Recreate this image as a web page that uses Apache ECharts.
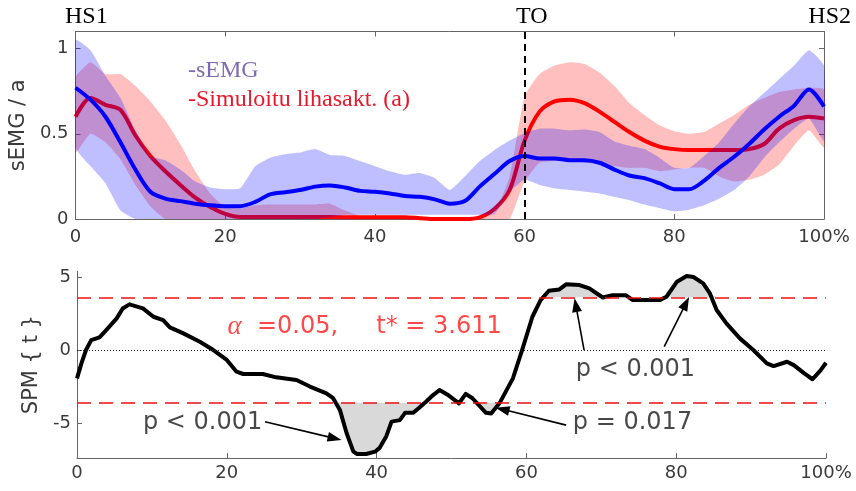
<!DOCTYPE html>
<html><head><meta charset="utf-8">
<script src="https://cdn.jsdelivr.net/npm/echarts@6/dist/echarts.min.js"></script>
<style>html,body{margin:0;padding:0;background:#fff}#c{width:856px;height:491px}</style>
</head><body><div id="c"></div>
<script>
// ---- data ----
const pct = [0,2,4,6,8,10,12,14,16,18,20,22,24,26,28,30,32,34,36,38,40,42,44,46,48,50,52,54,56,58,60,62,64,66,68,70,72,74,76,78,80,82,84,86,88,90,92,94,96,98,100];
const semgMean  = [0.77,0.70,0.60,0.45,0.29,0.16,0.12,0.105,0.09,0.08,0.075,0.075,0.10,0.145,0.157,0.17,0.19,0.197,0.185,0.165,0.16,0.15,0.135,0.13,0.115,0.09,0.105,0.19,0.265,0.34,0.37,0.355,0.355,0.345,0.345,0.33,0.29,0.255,0.24,0.21,0.175,0.175,0.225,0.30,0.365,0.44,0.525,0.60,0.665,0.76,0.66];
const semgUpper = [1.05,0.99,0.84,0.71,0.52,0.37,0.345,0.29,0.22,0.185,0.175,0.18,0.31,0.36,0.38,0.39,0.41,0.375,0.37,0.34,0.31,0.28,0.26,0.27,0.24,0.17,0.25,0.34,0.405,0.46,0.505,0.53,0.53,0.52,0.525,0.51,0.455,0.43,0.41,0.36,0.30,0.30,0.37,0.45,0.56,0.66,0.74,0.82,0.90,0.99,0.90];
const semgLower = [0.42,0.31,0.21,0.05,0,0,0,0,0,0,0,0,0,0,0,0,0,0.01,0.025,0.025,0.025,0.025,0.025,0.025,0.025,0.025,0.025,0.025,0.03,0.16,0.23,0.20,0.18,0.17,0.16,0.15,0.13,0.11,0.085,0.065,0.045,0.055,0.08,0.12,0.17,0.25,0.36,0.45,0.53,0.59,0.46];
const simMean   = [0.60,0.71,0.67,0.64,0.49,0.37,0.28,0.20,0.125,0.07,0.03,0.012,0.012,0.012,0.012,0.012,0.012,0.012,0.01,0.01,0.01,0.01,0.01,0.005,0,0,0,0.01,0.06,0.17,0.46,0.63,0.69,0.70,0.68,0.63,0.57,0.51,0.46,0.425,0.41,0.405,0.405,0.405,0.405,0.41,0.44,0.53,0.58,0.60,0.59];
const simUpper  = [0.83,0.92,0.85,0.85,0.78,0.69,0.58,0.44,0.28,0.15,0.07,0.06,0.08,0.085,0.085,0.085,0.085,0.09,0.05,0.02,0.01,0.01,0.01,0.01,0.01,0.01,0.01,0.01,0.04,0.25,0.72,0.85,0.90,0.92,0.91,0.86,0.78,0.68,0.61,0.55,0.515,0.50,0.51,0.56,0.61,0.67,0.71,0.745,0.76,0.77,0.76];
const simLower  = [0.39,0.50,0.45,0.35,0.20,0.075,0,0,0,0,0,0,0,0,0,0,0,0,0,0,0,0,0,0,0,0,0,0,0,0,0.22,0.33,0.34,0.34,0.33,0.32,0.31,0.30,0.30,0.28,0.29,0.30,0.30,0.25,0.22,0.23,0.26,0.32,0.43,0.52,0.42];

const spmX = [0,0.6,1.2,1.9,3.0,3.9,5.3,6.1,7.0,8.8,10.2,11.5,12.4,14.2,16.4,18.2,20.0,21.3,22.2,24.8,26.6,29.3,31.1,33.3,34.2,35.1,36.0,36.9,37.4,38.6,39.8,40.4,41.3,42.0,43.1,43.8,44.9,45.8,46.6,47.5,48.4,49.6,51.0,51.9,52.8,54.6,55.3,56.4,58.2,59.5,60.8,61.9,63.0,64.4,65.3,67.1,68.4,70.2,71.5,73.3,74.2,77.8,78.7,80.1,81.4,82.3,83.6,84.5,85.4,86.7,88.5,90.3,92.1,93.0,94.8,95.7,97.1,98.2,99.3,100];
const spmT = [-1.94,-0.9,0,0.68,0.87,1.37,2.17,2.85,3.13,2.85,2.28,2.05,1.55,1.14,0.57,0,-0.68,-1.48,-1.64,-1.64,-1.87,-2.05,-2.5,-2.97,-3.3,-4.1,-5.7,-6.96,-7.12,-7.12,-6.96,-6.7,-5.9,-4.9,-4.8,-4.3,-4.3,-3.9,-3.54,-3.1,-2.74,-3.1,-3.65,-3.0,-3.3,-4.3,-4.34,-3.65,-1.94,0.11,2.28,3.42,4.06,4.15,4.5,4.45,4.22,3.6,3.75,3.75,3.42,3.42,3.65,4.68,5.07,5.0,4.57,3.88,2.74,1.83,0.8,0,-0.91,-1.1,-0.8,-1.03,-1.6,-2.0,-1.37,-0.87];
const tCrit = 3.611;
const toPct = 60;
const topYTicks = [0,0.5,1];
const spmYTicks = [-5,0,5];
const eventLabels = [['HS1',65,'left'],['TO',516,'left'],['HS2',851,'right']];
const arrows = [[[25.1,-4.91],[34.4,-6.05]],[[65.3,-5.14],[56.8,-4.06]],[[67.7,0.0],[66.6,3.08]],[[78.4,0.23],[81.3,3.2]]];
const pTexts = [['p < 0.001',8.8,-5.0],['p = 0.017',66.2,-5.0],['p < 0.001',66.6,-1.37]];

// ---- chart ----
const SANS = 'DejaVu Sans, Liberation Sans, sans-serif';
const SERIF = 'Liberation Serif, Times New Roman, serif';
const AX = '#666', LB = '#3a3a3a';
const pairs = (xs, ys) => xs.map((x, i) => [x, ys[i]]);
const xFmt = v => (v === 100 ? '100%' : String(v));

function bandSeries(upper, lower, color, z) {
  return {
    type: 'custom', xAxisIndex: 0, yAxisIndex: 0, z: z, silent: true, clip: true,
    data: [[pct[0], lower[0]]],
    renderItem: (params, api) => {
      const top = pct.map((x, i) => api.coord([x, upper[i]]));
      const bot = pct.map((x, i) => api.coord([x, lower[i]])).reverse();
      return { type: 'polygon', shape: { points: top.concat(bot), smooth: 0.15 }, style: { fill: color, stroke: null } };
    }
  };
}

function xAxisCfg(gi, pos, showLabel) {
  return {
    type: 'value', gridIndex: gi, position: pos, min: 0, max: 100, interval: 20,
    axisLine: { show: true, onZero: false, lineStyle: { color: AX, width: 1 } },
    axisTick: { show: true, inside: true, length: 5, lineStyle: { color: AX } },
    axisLabel: { show: showLabel, formatter: xFmt, color: LB, fontFamily: SANS, fontSize: 18, margin: gi === 0 ? 9 : 6 },
    splitLine: { show: false }
  };
}

const option = {
  animation: false,
  backgroundColor: '#fff',
  grid: [
    { left: 75, top: 31.5, width: 749, height: 187.5 },
    { left: 77, top: 271.2, width: 749, height: 186.9 }
  ],
  xAxis: [xAxisCfg(0, 'bottom', true), xAxisCfg(0, 'top', false), xAxisCfg(1, 'bottom', true)],
  yAxis: [
    { type: 'value', gridIndex: 0, position: 'left', min: 0, max: 1.1,
      axisLine: { show: true, onZero: false, lineStyle: { color: AX } },
      axisTick: { show: true, inside: true, length: 5, customValues: topYTicks, lineStyle: { color: AX } },
      axisLabel: { customValues: topYTicks, color: LB, fontFamily: SANS, fontSize: 18, margin: 7 },
      splitLine: { show: false },
      name: 'sEMG / a', nameLocation: 'middle', nameGap: 40,
      nameTextStyle: { color: LB, fontFamily: SANS, fontSize: 21 } },
    { type: 'value', gridIndex: 0, position: 'right', min: 0, max: 1.1,
      axisLine: { show: true, onZero: false, lineStyle: { color: AX } },
      axisTick: { show: true, inside: true, length: 5, customValues: topYTicks, lineStyle: { color: AX } },
      axisLabel: { show: false }, splitLine: { show: false } },
    { type: 'value', gridIndex: 1, position: 'left', min: -7.4, max: 5.4,
      axisLine: { show: true, onZero: false, lineStyle: { color: AX } },
      axisTick: { show: true, inside: true, length: 5, customValues: spmYTicks, lineStyle: { color: AX } },
      axisLabel: { customValues: spmYTicks, color: LB, fontFamily: SANS, fontSize: 18, margin: 6 },
      splitLine: { show: false },
      name: 'SPM { t }', nameLocation: 'middle', nameGap: 30,
      nameTextStyle: { color: LB, fontFamily: SANS, fontSize: 21 } }
  ],
  series: [
    bandSeries(simUpper, simLower, 'rgba(255,0,0,0.25)', 1),
    { type: 'line', xAxisIndex: 0, yAxisIndex: 0, data: pairs(pct, simMean), symbol: 'none', smooth: 0.3, lineStyle: { color: '#ff0000', width: 4 }, z: 2, silent: true },
    bandSeries(semgUpper, semgLower, 'rgba(0,0,255,0.25)', 3),
    { type: 'line', xAxisIndex: 0, yAxisIndex: 0, data: pairs(pct, semgMean), symbol: 'none', smooth: 0.3, lineStyle: { color: '#0000ff', width: 4 }, z: 4, silent: true,
      markLine: { silent: true, symbol: 'none', label: { show: false },
        lineStyle: { color: '#000', width: 2, type: [7, 5] },
        data: [{ xAxis: toPct }] } },
    // SPM supra-threshold fills
    { type: 'line', xAxisIndex: 2, yAxisIndex: 2, data: spmX.map((x, i) => [x, Math.max(spmT[i], tCrit)]), symbol: 'none', lineStyle: { width: 0 }, areaStyle: { origin: tCrit, color: '#d9d9d9', opacity: 1 }, z: 1, silent: true },
    { type: 'line', xAxisIndex: 2, yAxisIndex: 2, data: spmX.map((x, i) => [x, Math.min(spmT[i], -tCrit)]), symbol: 'none', lineStyle: { width: 0 }, areaStyle: { origin: -tCrit, color: '#d9d9d9', opacity: 1 }, z: 1, silent: true },
    // SPM curve with threshold lines
    { type: 'line', xAxisIndex: 2, yAxisIndex: 2, data: pairs(spmX, spmT), symbol: 'none', lineStyle: { color: '#000', width: 4, join: 'round' }, z: 3, silent: true,
      markLine: { silent: true, symbol: 'none', label: { show: false },
        data: [
          { yAxis: tCrit, lineStyle: { color: '#ee1111', width: 1.5, type: [14, 8] } },
          { yAxis: -tCrit, lineStyle: { color: '#ee1111', width: 1.5, type: [14, 8] } },
          { yAxis: 0, lineStyle: { color: '#222', width: 1, type: [1, 2] } }
        ] } },
    // arrows
    { type: 'line', xAxisIndex: 2, yAxisIndex: 2, data: [], z: 5, silent: true,
      markLine: { silent: true, symbol: ['none', 'triangle'], symbolSize: [10, 14], label: { show: false },
        lineStyle: { color: '#000', width: 1.6, type: 'solid' },
        data: arrows.map(a => [{ coord: a[0] }, { coord: a[1] }]) } },
    // p-value texts
    { type: 'scatter', xAxisIndex: 2, yAxisIndex: 2, symbolSize: 0, z: 6, silent: true,
      data: pTexts.map(p => ({ name: p[0], value: [p[1], p[2]] })),
      label: { show: true, position: 'right', distance: 0, formatter: '{b}', color: '#1a1a1a', fontFamily: SANS, fontSize: 24 } },
    { type: 'scatter', xAxisIndex: 2, yAxisIndex: 2, symbolSize: 0, z: 6, silent: true,
      data: [{ name: 'alpha', value: [20.1, 1.58] }],
      label: { show: true, position: 'right', distance: 0,
        formatter: '{a|α}{b|  =0.05,     t* = ' + tCrit.toFixed(3) + '}',
        rich: {
          a: { fontFamily: SERIF, fontStyle: 'italic', fontSize: 27, color: '#ff1a1a' },
          b: { fontFamily: SANS, fontSize: 24, color: '#ff1a1a' }
        } } }
  ],
  graphic: [
    ...eventLabels.map(e => ({ type: 'text', left: e[2] === 'left' ? e[1] : null, right: e[2] === 'right' ? 856 - e[1] : null, top: 5,
      style: { text: e[0], fill: '#000', font: '24px ' + SERIF } })),
    { type: 'text', left: 188, top: 59, style: { text: '-sEMG', fill: '#7d6bb5', font: '24px ' + SERIF } },
    { type: 'text', left: 188, top: 88, style: { text: '-Simuloitu lihasakt. (a)', fill: '#e8192c', font: '24px ' + SERIF } }
  ]
};
echarts.init(document.getElementById('c'), null, { renderer: 'canvas' }).setOption(option);
</script></body></html>
